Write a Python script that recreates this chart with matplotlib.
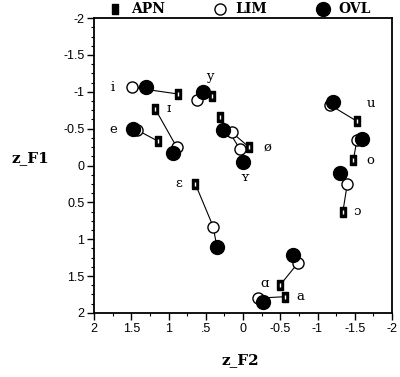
import matplotlib
matplotlib.use("Agg")
import matplotlib.pyplot as plt
from matplotlib.ticker import FixedLocator, MultipleLocator
from matplotlib.lines import Line2D

vowels = ["i", "y", "ɪ", "e", "ʏ", "ø", "u", "o", "ɔ", "ɛ", "ɑ", "a"]
apn_f2 = [0.87, 0.42, 1.18, 1.14, 0.31, -0.08, -1.53, -1.48, -1.34, 0.64, -0.50, -0.56]
apn_f1 = [-0.97, -0.94, -0.77, -0.33, -0.66, -0.25, -0.60, -0.07, 0.63, 0.25, 1.62, 1.78]
lim_f2 = [1.49, 0.62, 0.89, 1.42, 0.04, 0.15, -1.17, -1.53, -1.40, 0.40, -0.74, -0.20]
lim_f1 = [-1.06, -0.89, -0.25, -0.48, -0.22, -0.45, -0.82, -0.35, 0.25, 0.83, 1.32, 1.80]
ovl_f2 = [1.30, 0.54, 0.94, 1.48, 0.00, 0.27, -1.21, -1.60, -1.30, 0.35, -0.67, -0.27]
ovl_f1 = [-1.06, -1.00, -0.17, -0.49, -0.05, -0.48, -0.86, -0.36, 0.10, 1.11, 1.21, 1.85]

# label anchor: which point and offset (points)
label_anchor = ["lim", "apn", "apn", "ovl", "ovl", "apn", "apn", "apn", "apn", "apn", "apn", "apn"]
label_off = [(-14, 0), (-1, 14), (10, 0), (-14, 0), (1, -11), (13, 0),
             (10, 13), (12, 0), (10, 0), (-12, 0), (-11, 1), (11, 0)]

x_ticks = [2, 1.5, 1, 0.5, 0, -0.5, -1, -1.5, -2]
x_ticklabels = ["2", "1.5", "1", ".5", "0", "-0.5", "-1", "-1.5", "-2"]
y_ticks = [-2, -1.5, -1, -0.5, 0, 0.5, 1, 1.5, 2]
y_ticklabels = ["-2", "-1.5", "-1", "-0.5", "0", "0.5", "1", "1.5", "2"]

rect = [(-0.7, -1), (0.7, -1), (0.7, 1), (-0.7, 1), (-0.7, -1)]

fig = plt.figure(figsize=(4.0, 3.77), dpi=100)
ax = fig.add_axes([0.235, 0.170, 0.745, 0.782])

for k in range(len(vowels)):
    ax.plot([apn_f2[k], lim_f2[k], ovl_f2[k]], [apn_f1[k], lim_f1[k], ovl_f1[k]],
            color="black", lw=0.8, zorder=1)

ax.plot(lim_f2, lim_f1, "o", ms=8, mfc="white", mec="black", mew=1.0, ls="none", zorder=2)
ax.plot(ovl_f2, ovl_f1, "o", ms=10, mfc="black", mec="black", ls="none", zorder=3)
ax.plot(apn_f2, apn_f1, marker=rect, ms=6.5, mfc="black", mec="black", ls="none", zorder=4)
ax.plot(apn_f2, apn_f1, "|", ms=2.5, mec="white", mew=1.0, ls="none", zorder=5)

pts = {"apn": (apn_f2, apn_f1), "lim": (lim_f2, lim_f1), "ovl": (ovl_f2, ovl_f1)}
for k, v in enumerate(vowels):
    xs, ys = pts[label_anchor[k]]
    ax.annotate(v, (xs[k], ys[k]), xytext=label_off[k], textcoords="offset points",
                ha="center", va="center", fontsize=9.5, family="DejaVu Serif")

ax.set_xlim(2, -2)
ax.set_ylim(2, -2)
ax.xaxis.set_major_locator(FixedLocator(x_ticks))
ax.set_xticklabels(x_ticklabels)
ax.yaxis.set_major_locator(FixedLocator(y_ticks))
ax.set_yticklabels(y_ticklabels)
ax.xaxis.set_minor_locator(MultipleLocator(0.25))
ax.yaxis.set_minor_locator(MultipleLocator(0.125))
ax.tick_params(which="major", direction="out", length=5, width=1, labelsize=9, pad=2)
ax.tick_params(which="minor", direction="out", length=2.5, width=0.8)
for lab in ax.get_xticklabels() + ax.get_yticklabels():
    lab.set_family("Liberation Sans")
for s in ax.spines.values():
    s.set_linewidth(1.3)

fig.text(0.075, 0.58, "z_F1", ha="center", va="center", fontsize=11,
         fontweight="bold", family="DejaVu Serif")
fig.text(0.6, 0.045, "z_F2", ha="center", va="center", fontsize=11,
         fontweight="bold", family="DejaVu Serif")

handles = [Line2D([], [], marker=rect, ms=6.5, mfc="black", mec="black", ls="none"),
           Line2D([], [], marker="o", ms=8, mfc="white", mec="black", ls="none"),
           Line2D([], [], marker="o", ms=10, mfc="black", mec="black", ls="none")]
fig.legend(handles, ["APN", "LIM", "OVL"], loc="center", bbox_to_anchor=(0.59, 0.975),
           ncol=3, frameon=False, handletextpad=0.1, columnspacing=3.0,
           prop={"family": "DejaVu Serif", "weight": "bold", "size": 10})

fig.savefig("out.png", dpi=100)
